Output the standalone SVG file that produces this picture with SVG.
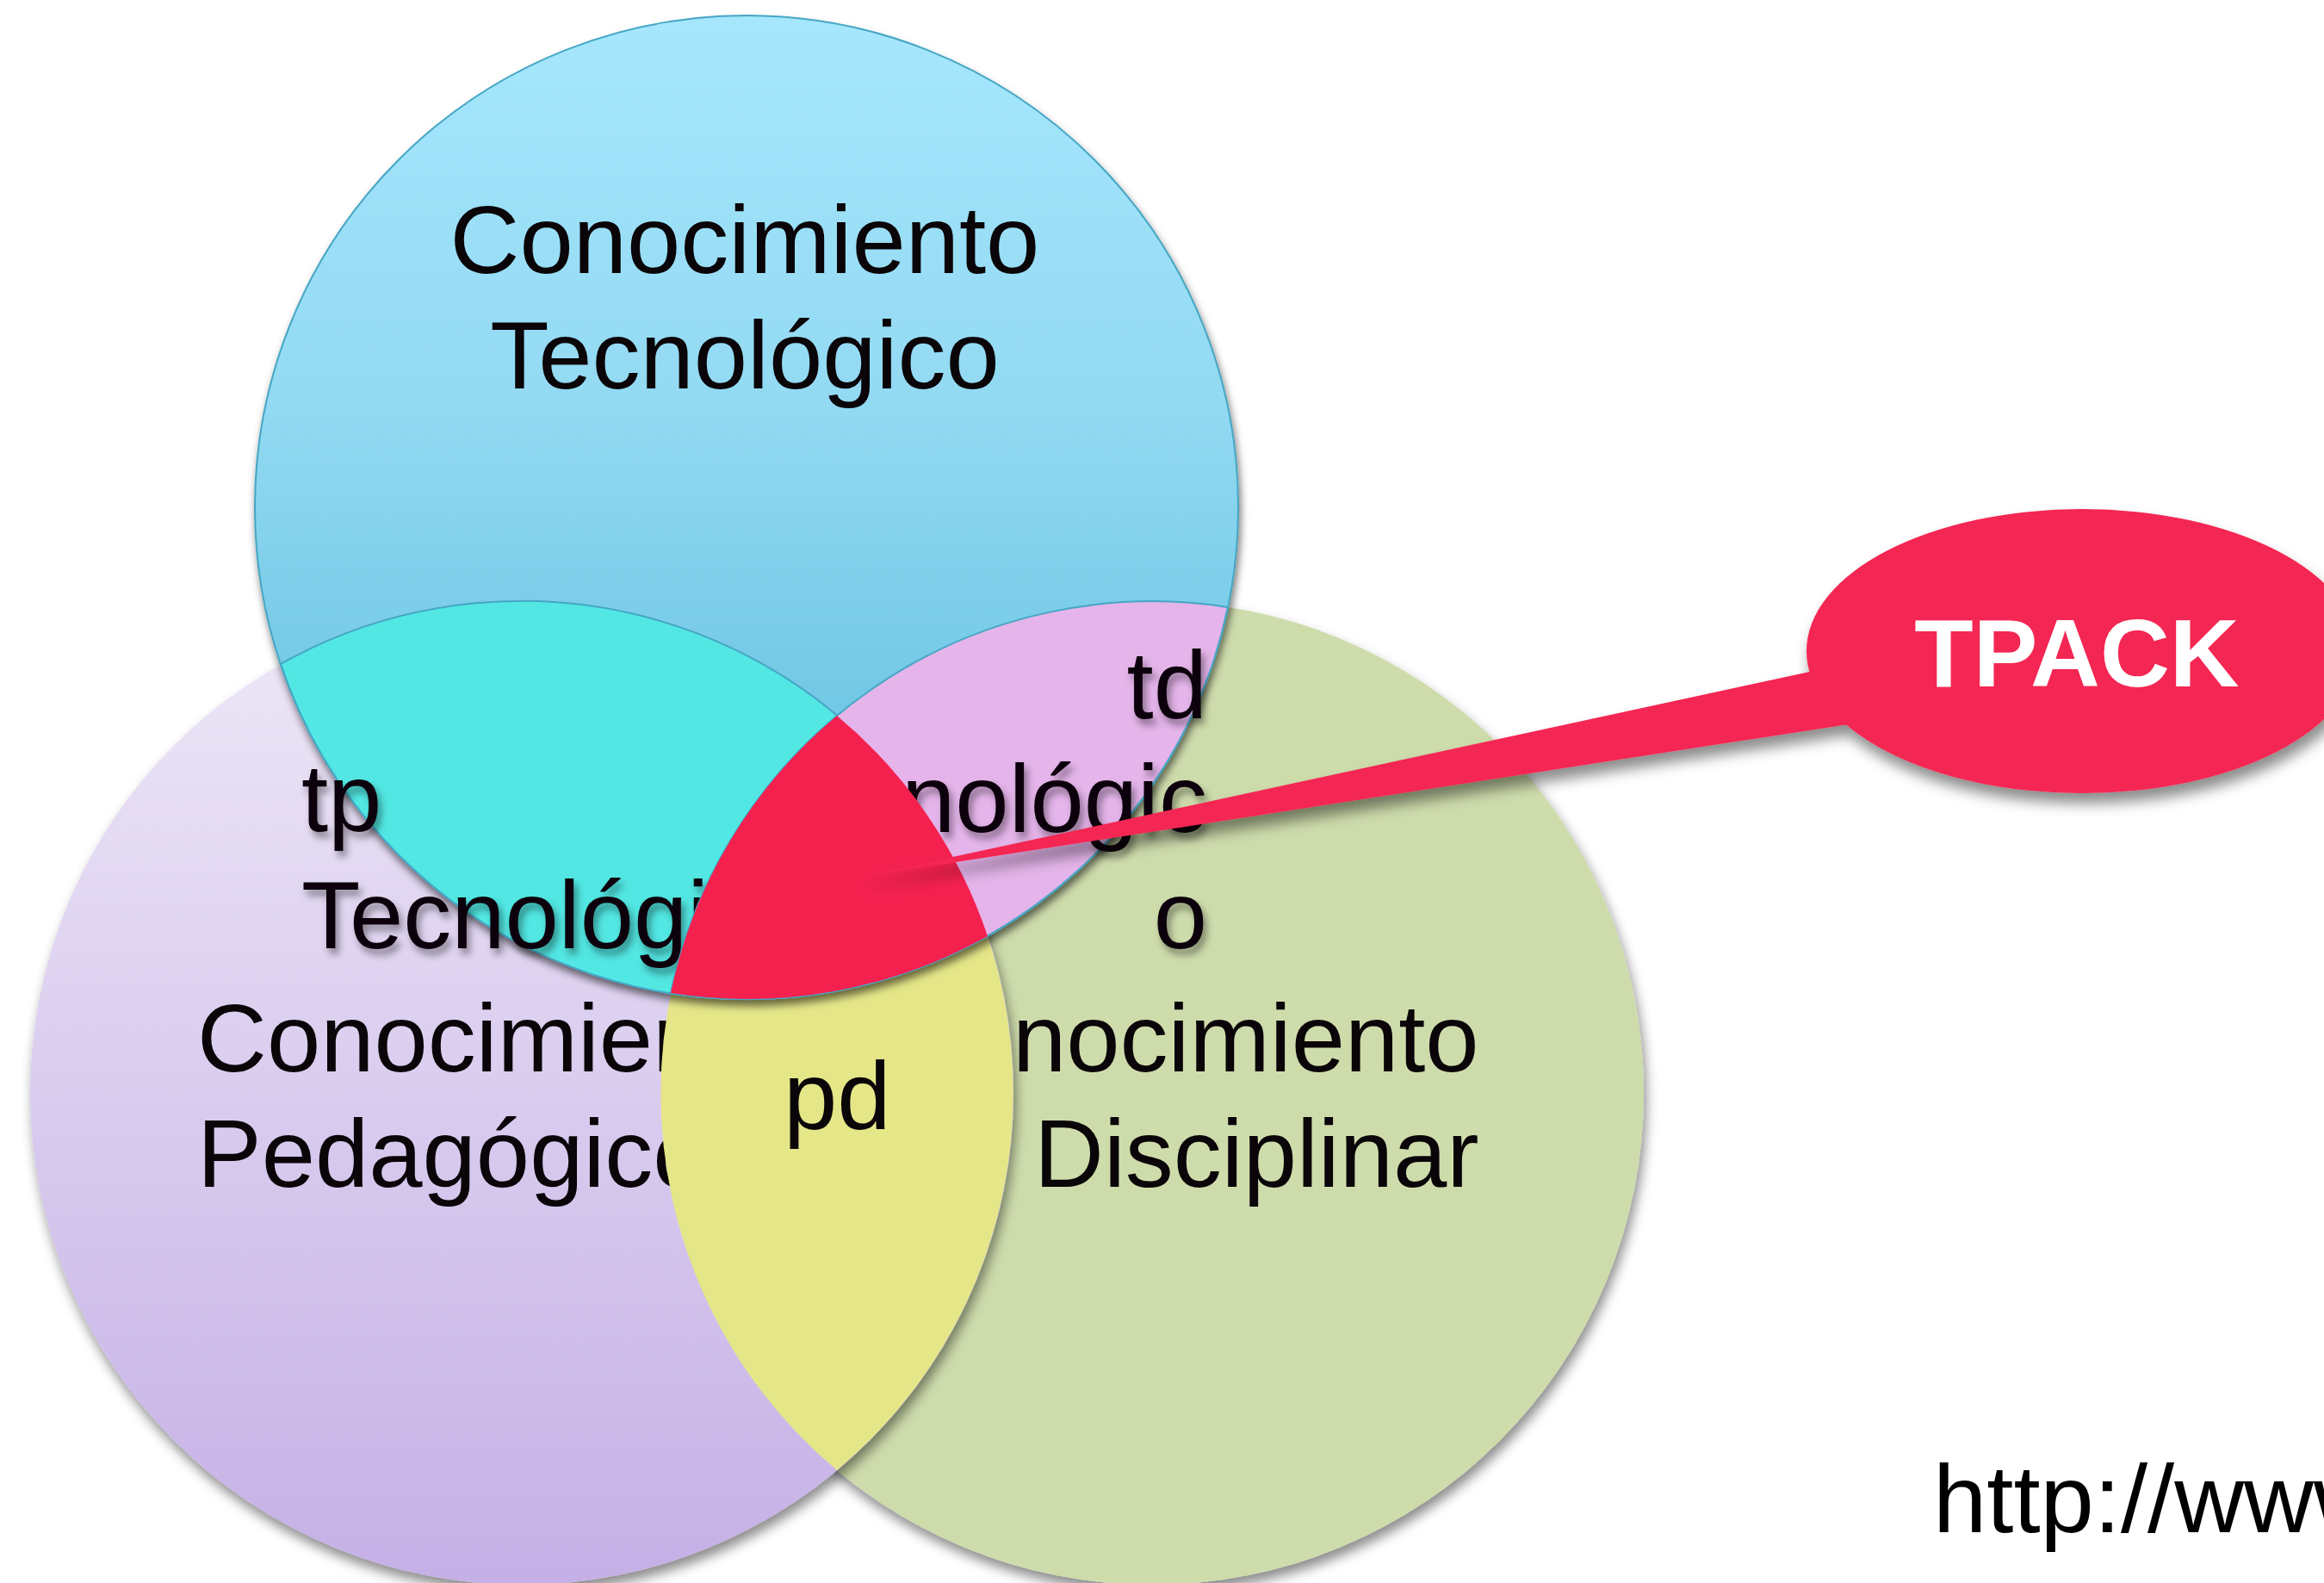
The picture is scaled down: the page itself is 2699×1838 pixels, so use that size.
<svg xmlns="http://www.w3.org/2000/svg" width="2699" height="1838" viewBox="0 0 2699 1838">
  <style>
    .lbl { font-family: "Liberation Sans", Arial, sans-serif; font-size: 112px; fill: #0a0508; }
    .tpack { font-family: "Liberation Sans", Arial, sans-serif; font-size: 112px; font-weight: bold; fill: #ffffff; }
    .url { font-family: "Liberation Sans", Arial, sans-serif; font-size: 112px; fill: #000000; }
    .lens { stroke: #45a6c4; stroke-width: 2; }
  </style>
  <defs>
    <linearGradient id="gBlue" gradientUnits="userSpaceOnUse" x1="0" y1="18" x2="0" y2="1160">
      <stop offset="0" stop-color="#a6e7fd"/>
      <stop offset="0.4" stop-color="#92d9f2"/>
      <stop offset="0.7" stop-color="#72c8e5"/>
      <stop offset="1" stop-color="#58b4d6"/>
    </linearGradient>
    <linearGradient id="gPurple" gradientUnits="userSpaceOnUse" x1="0" y1="698" x2="0" y2="1838">
      <stop offset="0" stop-color="#eee8f7"/>
      <stop offset="1" stop-color="#c5b0e6"/>
    </linearGradient>
    <filter id="shCircle" x="-10%" y="-10%" width="125%" height="125%">
      <feDropShadow dx="3" dy="9" stdDeviation="7" flood-color="#000" flood-opacity="0.45"/>
    </filter>
    <filter id="shBlue" x="-10%" y="-10%" width="125%" height="125%">
      <feDropShadow dx="2" dy="7" stdDeviation="5" flood-color="#000" flood-opacity="0.55"/>
    </filter>
    <filter id="shText" x="-20%" y="-30%" width="150%" height="170%">
      <feDropShadow dx="4" dy="7" stdDeviation="4" flood-color="#000" flood-opacity="0.4"/>
    </filter>
    <filter id="shCallout" x="-10%" y="-20%" width="130%" height="160%">
      <feDropShadow dx="4" dy="12" stdDeviation="8" flood-color="#000" flood-opacity="0.45"/>
    </filter>
  </defs>

  <rect width="2699" height="1838" fill="#ffffff"/>

  <!-- Conocimiento Disciplinar circle -->
  <g id="node-disciplinar">
    <circle cx="1338" cy="1269" r="571" fill="#cedcac" filter="url(#shCircle)"/>
  </g>

  <!-- Conocimiento Pedagogico circle -->
  <g id="node-pedagogico">
    <circle cx="606" cy="1269" r="571" fill="url(#gPurple)" filter="url(#shCircle)"/>
    <text class="lbl" x="229" y="1244">Conocimien</text>
    <text class="lbl" x="229" y="1378">Pedagógico</text>
  </g>

  <g id="node-disciplinar-text">
    <text class="lbl" x="1176" y="1244">nocimiento</text>
    <text class="lbl" x="1201" y="1378">Disciplinar</text>
  </g>

  <!-- pd lens -->
  <g id="node-pd">
    <path d="M972,831 A571,571 0 0 1 972,1707 A571,571 0 0 1 972,831 Z" fill="#e5e688"/>
    <text class="lbl" x="910" y="1311">pd</text>
  </g>

  <!-- Conocimiento Tecnologico circle -->
  <g id="node-tecnologico">
    <circle cx="867" cy="589" r="571" fill="url(#gBlue)" stroke="#45a6c4" stroke-width="2" filter="url(#shBlue)"/>
    <text class="lbl" x="865" y="317" text-anchor="middle">Conocimiento</text>
    <text class="lbl" x="865" y="451" text-anchor="middle">Tecnológico</text>
  </g>

  <!-- tp lens -->
  <g id="node-tp">
    <path class="lens" d="M326,771 A571,571 0 0 1 1147,1087 A571,571 0 0 1 326,771 Z" fill="#52e7e3"/>
    <g filter="url(#shText)">
      <text class="lbl" x="350" y="965">tp</text>
      <text class="lbl" x="350" y="1101">Tecnológi</text>
    </g>
  </g>

  <!-- td lens -->
  <g id="node-td">
    <path class="lens" d="M779,1153 A571,571 0 0 1 1426,705 A571,571 0 0 1 779,1153 Z" fill="#e4b4ea"/>
    <g filter="url(#shText)">
      <text class="lbl" x="1402" y="834" text-anchor="end">td</text>
      <text class="lbl" x="1402" y="966" text-anchor="end">nológic</text>
      <text class="lbl" x="1402" y="1101" text-anchor="end">o</text>
    </g>
  </g>

  <!-- central TPACK region -->
  <g id="node-center">
    <path d="M972,831 A571,571 0 0 1 1147,1087 A571,571 0 0 1 779,1153 A571,571 0 0 1 972,831 Z" fill="#f4214f"/>
  </g>

  <!-- callout -->
  <g filter="url(#shCallout)">
    <g id="connectors">
      <path d="M1000,1018 L2250,748 L2250,825 Z" fill="#f42752"/>
    </g>
    <g id="node-tpack">
      <ellipse cx="2418" cy="756" rx="320" ry="165" fill="#f42752"/>
      <text class="tpack" x="2412" y="797" text-anchor="middle">TPACK</text>
    </g>
  </g>

  <g id="node-url">
    <text class="url" x="2245" y="1779">http://www</text>
  </g>
</svg>
